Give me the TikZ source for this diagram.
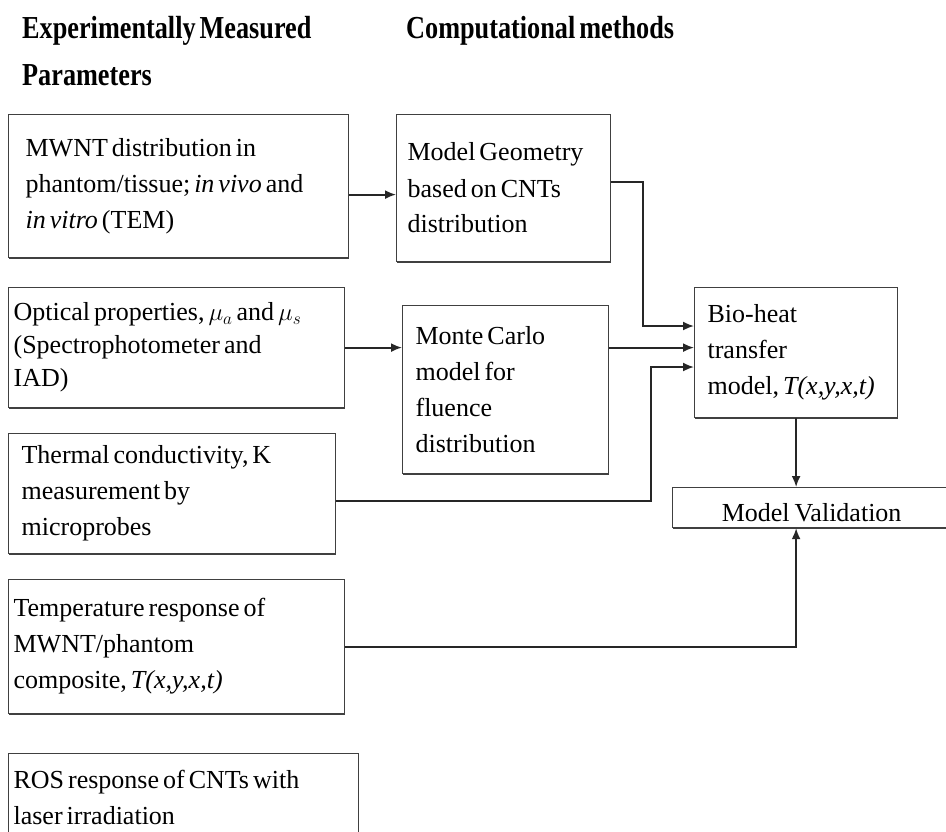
\documentclass[tikz,border=0pt]{standalone}
\usepackage{fontspec}
\setmainfont{Liberation Serif}
\newfontfamily\hdrfont{Liberation Serif}[FakeStretch=0.82]
\usetikzlibrary{arrows.meta,shadows}

\newcommand{\tightsp}{\spaceskip=4pt plus 1pt minus 1pt\relax}

\tikzset{
  blk/.style={draw=black!75, line width=1.2pt, fill=white, align=left,
    inner ysep=0pt, anchor=north west, font=\fontsize{26}{36}\selectfont,
    execute at begin node=\tightsp,
    drop shadow={shadow xshift=0.8pt, shadow yshift=-1.8pt, fill=black!75, opacity=1}},
  hdr/.style={anchor=base west, inner sep=0pt, font=\hdrfont\bfseries\fontsize{32}{40}\selectfont\tightsp},
  link/.style={draw=black!85, line width=1.8pt},
  >={Latex[length=11pt,width=9pt]}
}

\begin{document}
\begin{tikzpicture}[x=1pt,y=-1pt]
    \useasboundingbox (0,0) rectangle (946,831);
    % column headings
    \node[hdr] (hdrexp) at (22,38) {Experimentally Measured};
    \node[hdr] (hdrpar) at (22,85) {Parameters};
    \node[hdr] (hdrcomp) at (406,38) {Computational methods};
    % measured parameters
    \node[blk, inner xsep=17pt, text width=306pt, minimum height=143pt] (mwnt) at (8,114)
        {MWNT distribution in\\ phantom/tissue; \textit{in vivo} and\\ \textit{in vitro} (TEM)};
    \node[blk, inner xsep=5pt, text width=326pt, minimum height=120pt, font=\fontsize{26}{33}\selectfont] (optical) at (8,287)
        {Optical properties, $\mu_a$ and $\mu_s$\\ (Spectrophotometer and\\ IAD)};
    \node[blk, inner xsep=13pt, text width=301pt, minimum height=120pt] (thermal) at (8,433)
        {Thermal conductivity, K\\ measurement by\\ microprobes};
    \node[blk, inner xsep=5pt, text width=326pt, minimum height=134pt] (temp) at (8,579)
        {Temperature response of\\ MWNT/phantom\\ composite, \textit{T(x,y,x,t)}};
    \node[blk, inner xsep=5pt, text width=340pt, minimum height=88pt] (ros) at (8,753)
        {ROS response of CNTs with\\ laser irradiation};
    % computational methods
    \node[blk, inner xsep=11pt, text width=192pt, minimum height=147pt] (geom) at (396,114)
        {Model Geometry\\ based on CNTs\\ distribution};
    \node[blk, inner xsep=13pt, text width=180pt, minimum height=168pt] (mc) at (402,305)
        {Monte Carlo\\ model for\\ fluence\\ distribution};
    \node[blk, inner xsep=13pt, text width=177pt, minimum height=130pt] (bio) at (694,287)
        {Bio-heat\\ transfer\\ model, \textit{T(x,y,x,t)}};
    \node[blk, align=center, inner xsep=0pt, inner ysep=6pt, text width=278pt,
          text height=28pt, text depth=0pt] (val) at (672,487) {Model Validation};
    % bends
    \coordinate (kgeo) at (643,326);
    \coordinate (kth) at (651,367);
    % connectors
    \draw[link,->] ([yshift=-8.5pt]mwnt.east) -- ([yshift=-8.5pt]mwnt.east -| geom.west);
    \draw[link,->] (optical.east) -- (optical.east -| mc.west);
    \draw[link,->] ([yshift=6.5pt]geom.east) -| (kgeo) -- (kgeo -| bio.west);
    \draw[link,->] (optical.east -| mc.east) -- (optical.east -| bio.west);
    \draw[link,->] ([yshift=-7pt]thermal.east) -| (kth) -- (kth -| bio.west);
    \draw[link,->] (bio.south) -- (bio.south |- val.north);
    \draw[link,->] (temp.east) -| (bio.south |- val.south);
\end{tikzpicture}
\end{document}
